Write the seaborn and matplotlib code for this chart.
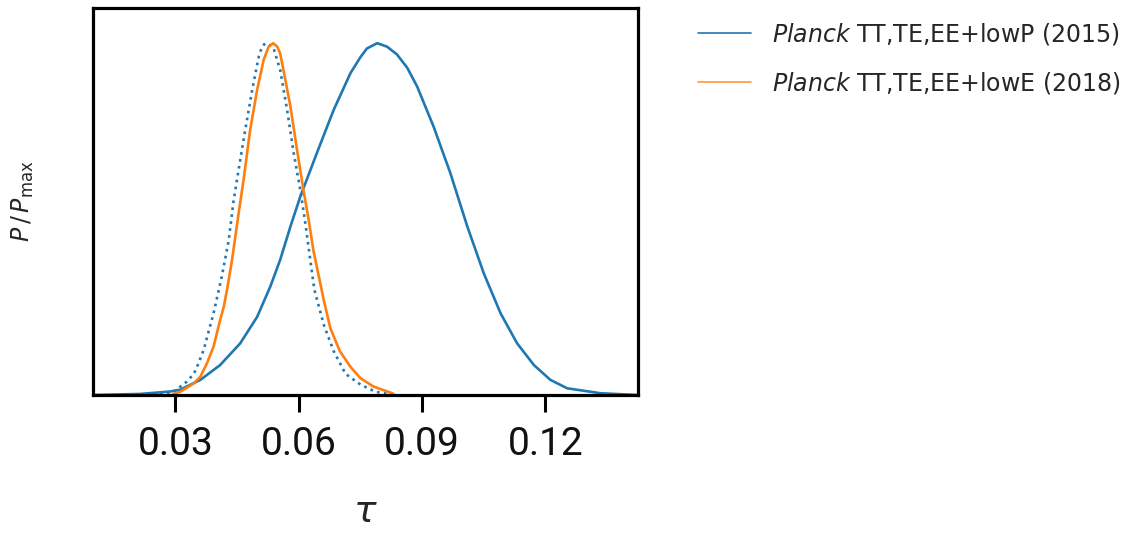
import matplotlib
matplotlib.use("Agg")
import matplotlib.pyplot as plt
import seaborn as sns

# Marginalised 1D posteriors of the optical depth tau, normalised to the peak
tau_2015 = [0.0100, 0.0215, 0.0288, 0.0312, 0.0361, 0.0409, 0.0458, 0.0499, 0.0531,
            0.0555, 0.0580, 0.0604, 0.0645, 0.0685, 0.0726, 0.0750, 0.0766, 0.0791,
            0.0815, 0.0839, 0.0864, 0.0888, 0.0928, 0.0969, 0.1010, 0.1050, 0.1091,
            0.1131, 0.1172, 0.1212, 0.1253, 0.1334, 0.1424]
p_2015 = [0.000, 0.003, 0.010, 0.015, 0.043, 0.085, 0.147, 0.222, 0.308,
          0.384, 0.479, 0.564, 0.690, 0.810, 0.915, 0.960, 0.985, 1.000,
          0.990, 0.968, 0.930, 0.877, 0.763, 0.630, 0.479, 0.346, 0.232,
          0.147, 0.085, 0.043, 0.019, 0.005, 0.000]

tau_2018 = [0.0295, 0.0312, 0.0345, 0.0361, 0.0377, 0.0393, 0.0409, 0.0418, 0.0426,
            0.0438, 0.0454, 0.0466, 0.0482, 0.0499, 0.0515, 0.0527, 0.0538, 0.0548,
            0.0555, 0.0563, 0.0580, 0.0596, 0.0612, 0.0624, 0.0636, 0.0661, 0.0677,
            0.0700, 0.0726, 0.0750, 0.0782, 0.0830]
p_2018 = [0.003, 0.009, 0.033, 0.052, 0.090, 0.137, 0.213, 0.251, 0.300,
          0.384, 0.516, 0.611, 0.753, 0.867, 0.953, 0.990, 1.000, 0.990,
          0.971, 0.924, 0.820, 0.697, 0.580, 0.500, 0.410, 0.270, 0.190,
          0.125, 0.080, 0.048, 0.024, 0.004]

tau_alt = [0.0263, 0.0296, 0.0328, 0.0345, 0.0353, 0.0369, 0.0393, 0.0413, 0.0430,
           0.0442, 0.0454, 0.0470, 0.0487, 0.0503, 0.0511, 0.0519, 0.0529, 0.0539,
           0.0555, 0.0572, 0.0588, 0.0604, 0.0616, 0.0638, 0.0661, 0.0685, 0.0714,
           0.0750, 0.0787, 0.0823]
p_alt = [0.003, 0.009, 0.038, 0.060, 0.080, 0.128, 0.232, 0.336, 0.440,
         0.554, 0.640, 0.753, 0.867, 0.962, 0.990, 1.000, 0.995, 0.986,
         0.924, 0.810, 0.687, 0.583, 0.490, 0.300, 0.200, 0.125, 0.060,
         0.030, 0.009, 0.002]

tick_values = [0.03, 0.06, 0.09, 0.12]
tick_labels = ["0.03", "0.06", "0.09", "0.12"]
legend_labels = [r"$\it{Planck}$ TT,TE,EE+lowP (2015)",
                 r"$\it{Planck}$ TT,TE,EE+lowE (2018)"]

sns.set_theme(style="white")
plt.rcParams["font.family"] = ["DejaVu Sans"]
plt.rcParams["mathtext.fontset"] = "dejavusans"

blue = "#1f77b4"
orange = "#ff7f0e"

fig = plt.figure(figsize=(11.4, 5.33), dpi=100)
ax = fig.add_axes([93 / 1140, 138 / 533, 545 / 1140, 387 / 533])

sns.lineplot(x=tau_2015, y=p_2015, ax=ax, color=blue, lw=1.9, sort=False)
sns.lineplot(x=tau_alt, y=p_alt, ax=ax, color=blue, lw=1.9, ls=":", sort=False)
sns.lineplot(x=tau_2018, y=p_2018, ax=ax, color=orange, lw=1.9, sort=False)

ax.set_xlim(0.010, 0.1425)
ax.set_ylim(0, 1.1)
ax.set_yticks([])
ax.set_xticks(tick_values)
ax.set_xticklabels(tick_labels, family=["Roboto", "DejaVu Sans"])
ax.tick_params(axis="x", which="major", direction="out", length=12, width=2.2,
               labelsize=28, pad=10, bottom=True, color="black", labelcolor="#111111")

for side in ax.spines.values():
    side.set_linewidth(2.3)
    side.set_color("black")

ax.set_xlabel(r"$\tau$", fontsize=27)
ax.xaxis.set_label_coords(0.5, -0.255)
ax.set_ylabel(r"$P\,/\,P_{\rm max}$", fontsize=17)
ax.yaxis.set_label_coords(-0.105, 0.5)

handles = [
    plt.Line2D([], [], color=blue, lw=1.2),
    plt.Line2D([], [], color=orange, lw=1.2, alpha=0.8),
]
fig.legend(handles, legend_labels, loc="upper left",
           bbox_to_anchor=(698 / 1140, 1 - 21 / 533), frameon=False,
           fontsize=17, handlelength=2.25, handletextpad=0.9, labelspacing=0.98,
           borderaxespad=0, borderpad=0)

fig.savefig("out.png", dpi=100)
